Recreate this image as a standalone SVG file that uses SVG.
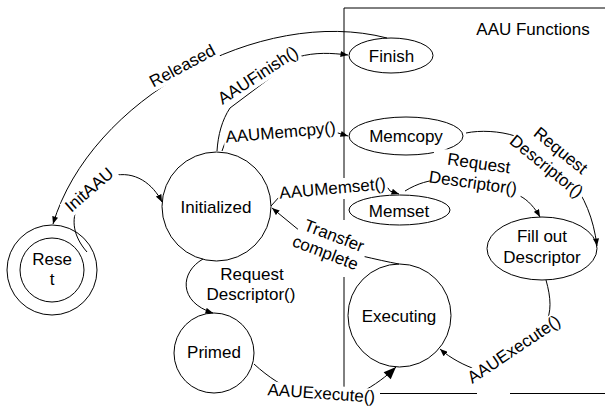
<svg xmlns="http://www.w3.org/2000/svg" width="605" height="408" viewBox="0 0 605 408">
<defs>
<style>
text{font-family:"Liberation Sans",Arial,sans-serif;font-size:17px;fill:#000;text-anchor:middle}
.n{fill:#fff;stroke:#000;stroke-width:1}
.c{fill:none;stroke:#000;stroke-width:1}
.bg{fill:#fff;stroke:none}
.box{fill:none;stroke:#000;stroke-width:1}
</style>
<marker id="a" viewBox="0 0 10 8" refX="10" refY="4" markerWidth="8" markerHeight="6" markerUnits="userSpaceOnUse" orient="auto"><path d="M0,0 L10,4 L0,8 z" fill="#000"/></marker>
<marker id="b" viewBox="0 0 10 8" refX="10" refY="4" markerWidth="13" markerHeight="10" markerUnits="userSpaceOnUse" orient="auto"><path d="M0,0 L10,4 L0,8 z" fill="#000"/></marker>
</defs>
<rect width="605" height="408" fill="#fff"/>
<g id="frame">
<path class="box" d="M344,8 H605 M344,8 V178 M344,199 V220 M344,277 V387 M380,393.5 H477 M510,393.5 H605"/>
<text x="533" y="35">AAU Functions</text>
</g>
<g id="reset">
<circle class="n" cx="52" cy="270" r="45"/>
<circle class="n" cx="52" cy="270" r="32"/>
<text x="52" y="265">Rese</text>
<text x="52" y="285">t</text>
</g>
<g id="initialized">
<circle class="n" cx="216.5" cy="206.5" r="54.5"/>
<text x="216" y="213">Initialized</text>
</g>
<g id="primed">
<circle class="n" cx="214" cy="353" r="40"/>
<text x="214" y="358">Primed</text>
</g>
<g id="executing">
<circle class="n" cx="399.5" cy="315.5" r="51.5"/>
<text x="399" y="322">Executing</text>
</g>
<g id="finish">
<ellipse class="n" cx="391" cy="55.5" rx="42" ry="17.5"/>
<text x="391.5" y="62">Finish</text>
</g>
<g id="memcopy">
<ellipse class="n" cx="406" cy="136" rx="57" ry="19"/>
<text x="406" y="141.5">Memcopy</text>
</g>
<g id="memset">
<ellipse class="n" cx="399.5" cy="210" rx="50.5" ry="15"/>
<text x="399" y="216.5">Memset</text>
</g>
<g id="filldesc">
<ellipse class="n" cx="542" cy="248.5" rx="55" ry="31.5"/>
<text x="542" y="242">Fill out</text>
<text x="542" y="262.5">Descriptor</text>
</g>
<g id="connectors">
<path class="c" marker-end="url(#a)" d="M387,38 C260,5 90,100 53,224"/>
<path class="c" marker-end="url(#a)" d="M87,252 C73,236 71,220 78,205 L112,176 C135,170 153,184 162,202"/>
<path class="c" marker-end="url(#a)" d="M217,151 C218,135 222,120 230,108 L298,57 C315,52 332,53 348,55"/>
<path class="c" marker-end="url(#a)" d="M222,151 L226,140 L338,133 L348,136"/>
<path class="c" marker-end="url(#a)" d="M271,206 L280,196 L388,188 L390,191 L399,194"/>
<path class="c" marker-end="url(#a)" d="M399,264 C388,262 375,259 362,256 L300,231 L272,208"/>
<path class="c" marker-end="url(#a)" d="M466,133 C480,130 500,131 515,136 C560,160 590,190 597,246"/>
<path class="c" marker-end="url(#a)" d="M405,191 C418,183 430,180 440,180 L520,196 C528,200 535,208 540,217"/>
<path class="c" marker-end="url(#a)" d="M203,259 C180,272 178,302 213,313"/>
<path class="c" marker-end="url(#b)" d="M254,364 C268,377 285,388 300,393 L360,393 C375,385 387,376 396,367"/>
<path class="c" marker-end="url(#a)" d="M546,280 C551,298 552,312 545,325 L478,370 C465,366 450,358 440,349"/>
<g transform="translate(185 71) rotate(-28)"><rect class="bg" x="-38" y="-14" width="76" height="18"/><text>Released</text></g>
<g transform="translate(93 194) rotate(-41)"><rect class="bg" x="-32" y="-14" width="64" height="18"/><text>InitAAU</text></g>
<g transform="translate(261 80) rotate(-33)"><rect class="bg" x="-47" y="-14" width="94" height="18"/><text>AAUFinish()</text></g>
<g transform="translate(281 138) rotate(-5)"><rect class="bg" x="-57" y="-14" width="114" height="18"/><text>AAUMemcpy()</text></g>
<g transform="translate(333 194) rotate(-5)"><rect class="bg" x="-55" y="-14" width="110" height="18"/><text>AAUMemset()</text></g>
<g transform="translate(332 241) rotate(21)"><rect class="bg" x="-36" y="-14" width="72" height="38"/><text>Transfer</text><text x="-2" y="19">complete</text></g>
<g transform="translate(478 169) rotate(8)"><rect class="bg" x="-46" y="-15" width="92" height="39"/><text>Request</text><text x="-3" y="20">Descriptor()</text></g>
<g transform="translate(557 155) rotate(39)"><rect class="bg" x="-46" y="-14" width="92" height="39"/><text>Request</text><text x="-1" y="21">Descriptor()</text></g>
<text x="252" y="280">Request</text>
<text x="251" y="300">Descriptor()</text>
<g transform="translate(321 399) rotate(4)"><rect class="bg" x="-56" y="-14" width="112" height="18"/><text>AAUExecute()</text></g>
<g transform="translate(517 354) rotate(-34)"><rect class="bg" x="-56" y="-14" width="112" height="18"/><text>AAUExecute()</text></g>
</g>
</svg>
